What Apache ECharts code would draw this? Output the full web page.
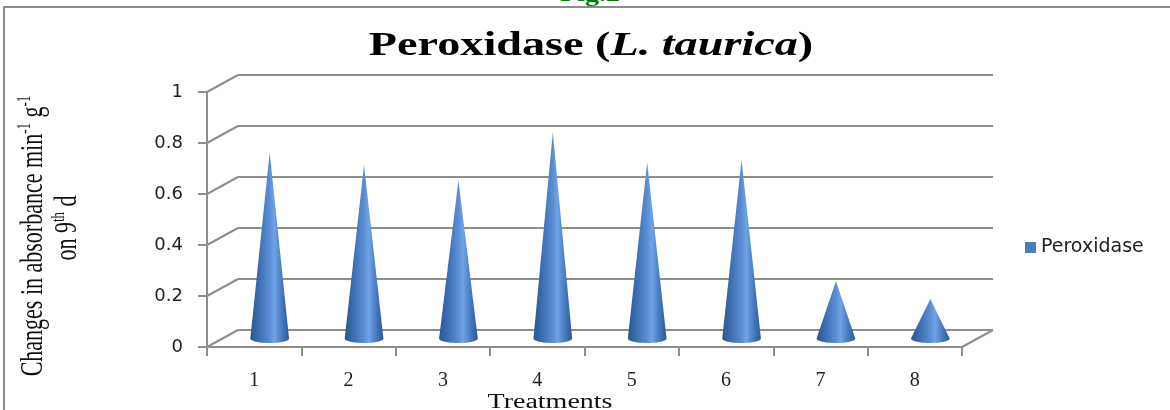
<!DOCTYPE html>
<html>
<head>
<meta charset="utf-8">
<script src="https://cdn.jsdelivr.net/npm/echarts@6/dist/echarts.min.js"></script>
<style>
html,body{margin:0;padding:0;background:#fff;}
#chart{width:1170px;height:410px;}
</style>
</head>
<body>
<div id="chart"></div>
<script>
// ---- data ----
var categories = ['1','2','3','4','5','6','7','8'];
var peroxidase = [0.73, 0.68, 0.62, 0.81, 0.69, 0.70, 0.225, 0.155];
var yTicks = [0, 0.2, 0.4, 0.6, 0.8, 1];
var seriesName = 'Peroxidase';

// ---- layout / style constants ----
var DX = 31, DY = 17;            // pseudo-3D depth offset
var GRID_L = 207, GRID_T = 92, GRID_W = 755, GRID_H = 255;
var LINE = '#8e8e8e';
var STRETCH = 1.4;

var chart = echarts.init(document.getElementById('chart'), null, {renderer: 'canvas'});

function coneItem(params, api) {
  var i = api.value(0), v = api.value(1);
  var base = api.coord([i, 0]);
  var top = api.coord([i, v]);
  var bw = api.size([1, 0])[0];
  var cx = base[0] + DX / 2;
  var by = base[1] - DY / 2;
  var ty = top[1] - DY / 2;
  var rx = bw * 0.205, ry = 4.5;
  var pts = [[cx, ty], [cx - rx, by]];
  var n = 24;
  for (var k = 1; k < n; k++) {
    var a = Math.PI - Math.PI * k / n;
    pts.push([cx + rx * Math.cos(a), by + ry * Math.sin(a)]);
  }
  pts.push([cx + rx, by]);
  return {
    type: 'polygon',
    shape: {points: pts},
    style: {
      fill: new echarts.graphic.LinearGradient(0, 0, 1, 0, [
        {offset: 0, color: '#2a5590'},
        {offset: 0.2, color: '#3b6bad'},
        {offset: 0.5, color: '#5a8ed4'},
        {offset: 0.62, color: '#6ea3e6'},
        {offset: 0.82, color: '#4679bd'},
        {offset: 1, color: '#2c5994'}
      ]),
      stroke: null
    }
  };
}

function diagItem(params, api) {
  var v = api.value(0);
  var cs = params.coordSys;
  var p = api.coord([0, v]);
  var children = [{
    type: 'line',
    shape: {x1: cs.x, y1: p[1], x2: cs.x + DX, y2: p[1] - DY},
    style: {stroke: LINE, lineWidth: 2}
  }];
  if (v === 0) {
    children.push({
      type: 'line',
      shape: {x1: cs.x + cs.width, y1: p[1], x2: cs.x + cs.width + DX, y2: p[1] - DY},
      style: {stroke: LINE, lineWidth: 2}
    });
  }
  return {type: 'group', children: children};
}

var option = {
  animation: false,
  backgroundColor: '#fff',
  grid: [
    {left: GRID_L, top: GRID_T, width: GRID_W, height: GRID_H},
    {left: GRID_L + DX, top: GRID_T - DY, width: GRID_W, height: GRID_H}
  ],
  xAxis: [
    {
      type: 'category', gridIndex: 0, data: categories,
      axisLine: {show: true, lineStyle: {color: LINE, width: 2}},
      axisTick: {show: true, length: 9, lineStyle: {color: LINE, width: 2}},
      axisLabel: {margin: 24, fontFamily: 'Liberation Serif', fontSize: 20, color: '#222'},
      splitLine: {show: false}
    },
    {
      type: 'category', gridIndex: 1, data: categories, show: false
    }
  ],
  yAxis: [
    {
      type: 'value', gridIndex: 0, min: 0, max: 1, interval: 0.2,
      axisLine: {show: true, lineStyle: {color: LINE, width: 2}},
      axisTick: {show: true, length: 9, lineStyle: {color: LINE, width: 2}},
      axisLabel: {margin: 24, fontFamily: 'DejaVu Sans', fontSize: 18, color: '#222'},
      splitLine: {show: false}
    },
    {
      type: 'value', gridIndex: 1, min: 0, max: 1, interval: 0.2,
      axisLine: {show: false}, axisTick: {show: false}, axisLabel: {show: false},
      splitLine: {show: true, lineStyle: {color: LINE, width: 2}}
    }
  ],
  legend: {
    data: [seriesName],
    left: 1020, top: 233,
    icon: 'rect', itemWidth: 11, itemHeight: 11,
    textStyle: {fontFamily: 'DejaVu Sans', fontSize: 19, color: '#222'}
  },
  series: [
    {
      type: 'custom', name: '_diag', xAxisIndex: 0, yAxisIndex: 0,
      data: yTicks.map(function (t) { return [t]; }),
      encode: {y: 0},
      renderItem: diagItem, silent: true, z: 1
    },
    {
      type: 'custom', name: seriesName, xAxisIndex: 0, yAxisIndex: 0,
      itemStyle: {color: '#4a7ebb'},
      data: peroxidase.map(function (v, i) { return [i, v]; }),
      encode: {x: 0, y: 1},
      renderItem: coneItem, z: 5
    }
  ],
  graphic: [
    {
      type: 'rect', z: -10, silent: true,
      shape: {x: 4, y: 7, width: 1200, height: 430},
      style: {fill: 'none', stroke: '#8c8c8c', lineWidth: 2}
    },
    {
      type: 'text', x: 590, y: 6, scaleX: STRETCH,
      style: {text: 'Fig.2', x: 0, y: 0, align: 'center', verticalAlign: 'bottom',
        font: 'bold 20px "Liberation Serif"', fill: '#008000'}
    },
    {
      type: 'text', x: 591, y: 46, scaleX: STRETCH,
      style: {
        text: '{a|Peroxidase (}{b|L. taurica}{a|)}', x: 0, y: 0,
        align: 'center', verticalAlign: 'middle',
        rich: {
          a: {fontFamily: 'Liberation Serif', fontWeight: 'bold', fontSize: 33, fill: '#000'},
          b: {fontFamily: 'Liberation Serif', fontWeight: 'bold', fontStyle: 'italic', fontSize: 33, fill: '#000'}
        }
      }
    },
    {
      type: 'text', x: 33, y: 236, rotation: Math.PI / 2, scaleY: STRETCH,
      style: {
        text: '{n|Changes in absorbance min}{s|-1}{n| g}{s|-1}', x: 0, y: 0,
        align: 'center', verticalAlign: 'middle',
        rich: {
          n: {fontFamily: 'Liberation Serif', fontSize: 22, fill: '#111', lineHeight: 24, verticalAlign: 'bottom'},
          s: {fontFamily: 'Liberation Serif', fontSize: 13, fill: '#111', lineHeight: 24, verticalAlign: 'top'}
        }
      }
    },
    {
      type: 'text', x: 67, y: 228, rotation: Math.PI / 2, scaleY: STRETCH,
      style: {
        text: '{n|on 9}{s|th}{n| d}', x: 0, y: 0,
        align: 'center', verticalAlign: 'middle',
        rich: {
          n: {fontFamily: 'Liberation Serif', fontSize: 22, fill: '#111', lineHeight: 24, verticalAlign: 'bottom'},
          s: {fontFamily: 'Liberation Serif', fontSize: 13, fill: '#111', lineHeight: 24, verticalAlign: 'top'}
        }
      }
    },
    {
      type: 'text', x: 550, y: 403, scaleX: STRETCH,
      style: {text: 'Treatments', x: 0, y: 0, align: 'center', verticalAlign: 'middle',
        font: '20px "Liberation Serif"', fill: '#111'}
    }
  ]
};
chart.setOption(option);
</script>
</body>
</html>
